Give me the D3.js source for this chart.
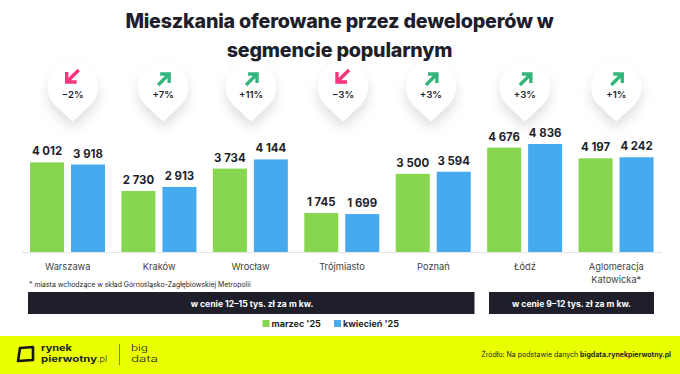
<!DOCTYPE html>
<html>
<head>
<meta charset="utf-8">
<script src="https://cdn.jsdelivr.net/npm/d3@7"></script>
<style>
  html, body { margin: 0; padding: 0; background: #fff; }
  svg { display: block; }
  text { font-family: Inter, "Open Sans", sans-serif; fill: #1e1f2b; }
</style>
</head>
<body>
<script>
var width = 680,
  height = 374;

// values
const cities = ["Warszawa", "Kraków", "Wrocław", "Trójmiasto", "Poznań", "Łódź", "Aglomeracja|Katowicka*"];
const march = [4012, 2730, 3734, 1745, 3500, 4676, 4197];
const april = [3918, 2913, 4144, 1699, 3594, 4836, 4242];
const changes = ["−2%", "+7%", "+11%", "−3%", "+3%", "+3%", "+1%"];
const seriesNames = ["marzec '25", "kwiecień '25"];
const seriesColors = ["#86d64f", "#45aaee"];

const svg = d3.select("body").append("svg").attr("width", width).attr("height", height);

// pin shadow
const shadow = svg.append("defs").append("filter").attr("id", "pinShadow")
  .attr("x", "-50%").attr("y", "-50%").attr("width", "200%").attr("height", "220%");
shadow.append("feDropShadow").attr("dx", 0).attr("dy", 7).attr("stdDeviation", 6)
  .attr("flood-color", "#000").attr("flood-opacity", 0.13);

// scales
const baseY = 252;
const x = d3.scaleBand().domain(d3.range(cities.length)).range([22, 662]);
const xSeries = d3.scaleBand().domain([0, 1]).range([8, 83]).paddingInner(0.17);
const y = d3.scaleLinear().domain([0, 4836]).range([baseY, 144]);

// title
svg.selectAll(".title").data(["Mieszkania oferowane przez deweloperów w", "segmencie popularnym"])
  .join("text").attr("class", "title")
  .attr("x", 339.5).attr("y", function (d, i) { return 28 + i * 29; })
  .attr("text-anchor", "middle").attr("font-size", 19.7).attr("font-weight", 800)
  .attr("letter-spacing", -0.2)
  .text(function (d) { return d; });

// axis line under the bars
svg.append("line").attr("x1", 22).attr("x2", 662).attr("y1", baseY + 0.5).attr("y2", baseY + 0.5)
  .attr("stroke", "#e3e3e3");

// bars and value labels
const groups = svg.selectAll(".city").data(cities).join("g").attr("class", "city")
  .attr("transform", function (d, i) { return "translate(" + x(i) + ",0)"; });

[march, april].forEach(function (values, s) {
  groups.append("rect")
    .attr("x", xSeries(s))
    .attr("width", xSeries.bandwidth())
    .attr("y", function (d, i) { return y(values[i]); })
    .attr("height", function (d, i) { return baseY - y(values[i]); })
    .attr("fill", seriesColors[s]);

  groups.append("text")
    .attr("x", xSeries(s) + xSeries.bandwidth() / 2)
    .attr("y", function (d, i) { return y(values[i]) - 7; })
    .attr("text-anchor", "middle").attr("font-size", 11.4).attr("font-weight", 700)
    .text(function (d, i) { return d3.format(",")(values[i]).replace(",", " "); });
});

// city names
groups.each(function (d) {
  const g = d3.select(this);
  d.split("|").forEach(function (line, k) {
    g.append("text")
      .attr("x", x.bandwidth() / 2).attr("y", 269.5 + k * 13)
      .attr("text-anchor", "middle").attr("font-size", 9.3)
      .style("fill", "#444")
      .text(line);
  });
});

// pins
const pinShift = [5, 4, 0.5, 1, -2.5, 0, 0];
const pins = svg.selectAll(".pin").data(changes).join("g").attr("class", "pin")
  .attr("transform", function (d, i) {
    return "translate(" + (x(i) + x.bandwidth() / 2 + pinShift[i]) + ",87)";
  });
pins.append("path")
  .attr("d", "M0,33 L-17,17 A24,24 0 1 1 17,17 Z")
  .attr("fill", "#fff").attr("stroke", "#fff").attr("stroke-width", 2).attr("stroke-linejoin", "round")
  .attr("filter", "url(#pinShadow)");
pins.append("path")
  .attr("d", function (d) {
    return d.charAt(0) === "+"
      ? "M-5,-2 L5,-12 M-3,-13 L6,-13 L6,-4"
      : "M6,-17 L-5,-6 M-6,-15 L-6,-5 L4,-5";
  })
  .attr("fill", "none")
  .attr("stroke", function (d) { return d.charAt(0) === "+" ? "#35b57c" : "#f7347f"; })
  .attr("stroke-width", 3.4);
pins.append("text")
  .attr("y", 11).attr("text-anchor", "middle").attr("font-size", 9.6).attr("font-weight", 600)
  .text(function (d) { return d; });

// footnote
svg.append("text").attr("x", 29).attr("y", 286.5).attr("font-size", 6.9)
  .text("* miasta wchodzące w skład Górnośląsko-Zagłębiowskiej Metropolii");

// price bands
const bands = [
  { from: 0, to: 4, label: "w cenie 12–15 tys. zł za m kw." },
  { from: 5, to: 6, label: "w cenie 9–12 tys. zł za m kw." },
];
const bandEdge = [28, 474.5, 489, 654];
bands.forEach(function (b, i) {
  svg.append("rect").attr("x", bandEdge[i * 2]).attr("y", 292)
    .attr("width", bandEdge[i * 2 + 1] - bandEdge[i * 2]).attr("height", 22).attr("fill", "#1e1f2b");
  svg.append("text").attr("x", i === 0 ? 252 : 571.5).attr("y", 307)
    .attr("text-anchor", "middle").attr("font-size", 8.6).attr("font-weight", 700)
    .style("fill", "#fff").text(b.label);
});

// legend
const legendX = [262.5, 334];
seriesNames.forEach(function (name, i) {
  svg.append("rect").attr("x", legendX[i]).attr("y", 320).attr("width", 7).attr("height", 7).attr("fill", seriesColors[i]);
  svg.append("text").attr("x", legendX[i] + 9).attr("y", 327).attr("font-size", 9).attr("font-weight", 700).text(name);
});

// footer
svg.append("rect").attr("y", 336).attr("width", width).attr("height", 38).attr("fill", "#eaff00");
svg.append("path")
  .attr("d", "M20,348 L33,347 L33,360 L18,361 Z")
  .attr("fill", "none").attr("stroke", "#15151c").attr("stroke-width", 2.6).attr("stroke-linejoin", "round");
svg.append("text").attr("x", 41).attr("y", 351).attr("font-size", 9).attr("font-weight", 700)
  .attr("textLength", 31).attr("lengthAdjust", "spacingAndGlyphs").text("rynek");
svg.append("text").attr("x", 41).attr("y", 362).attr("font-size", 9).attr("font-weight", 700)
  .attr("textLength", 56).attr("lengthAdjust", "spacingAndGlyphs").text("pierwotny");
svg.append("text").attr("x", 97).attr("y", 362).attr("font-size", 9).attr("font-weight", 300).text(".pl");
svg.append("line").attr("x1", 119.5).attr("x2", 119.5).attr("y1", 344).attr("y2", 365).attr("stroke", "#555").attr("stroke-width", 0.7);
svg.append("text").attr("x", 131).attr("y", 351).attr("font-size", 9).attr("font-weight", 300)
  .attr("textLength", 17).attr("lengthAdjust", "spacingAndGlyphs").text("big");
svg.append("text").attr("x", 131).attr("y", 362).attr("font-size", 9).attr("font-weight", 300)
  .attr("textLength", 27).attr("lengthAdjust", "spacingAndGlyphs").text("data");
const source = svg.append("text").attr("x", 671).attr("y", 357).attr("text-anchor", "end").attr("font-size", 7);
source.append("tspan").text("Źródło: Na podstawie danych ");
source.append("tspan").attr("font-weight", 700).text("bigdata.rynekpierwotny.pl");
</script>
</body>
</html>
